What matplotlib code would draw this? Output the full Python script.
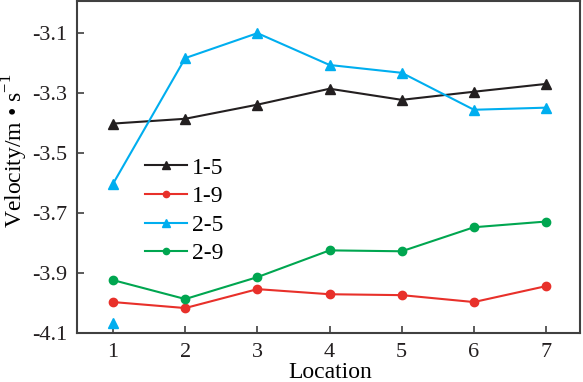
import matplotlib
matplotlib.use("Agg")
import matplotlib.pyplot as plt

locations = [1, 2, 3, 4, 5, 6, 7]
s15 = [-3.403, -3.387, -3.340, -3.287, -3.324, -3.297, -3.271]
s19 = [-3.997, -4.017, -3.954, -3.971, -3.974, -3.997, -3.944]
s25 = [-3.603, -3.185, -3.102, -3.208, -3.234, -3.357, -3.350]
s29 = [-3.924, -3.987, -3.914, -3.825, -3.828, -3.748, -3.729]
extra_x = [1]
extra_25 = [-4.067]
labels = ["1-5", "1-9", "2-5", "2-9"]
yticks = [-4.1, -3.9, -3.7, -3.5, -3.3, -3.1]

plt.rcParams['font.family'] = ['Liberation Serif', 'DejaVu Serif']
plt.rcParams['axes.unicode_minus'] = False
plt.rcParams['mathtext.fontset'] = 'custom'
plt.rcParams['mathtext.rm'] = 'Liberation Serif'
fig = plt.figure(figsize=(5.83, 3.82), dpi=100)
ax = fig.add_axes([77/583, 49/382, 503/583, 332/382])

c_black = "#231f20"
c_red = "#e8302a"
c_blue = "#00aeef"
c_green = "#00a650"

ax.plot(locations, s15, color=c_black, lw=1.5, marker="^", ms=7, label=labels[0])
ax.plot(locations, s19, color=c_red, lw=1.5, marker="o", ms=6, label=labels[1])
ax.plot(locations, s25, color=c_blue, lw=1.5, marker="^", ms=7, label=labels[2])
ax.plot(locations, s29, color=c_green, lw=1.5, marker="o", ms=6, label=labels[3])
ax.plot(extra_x, extra_25, color=c_blue, lw=0, marker="^", ms=7)

ax.set_xlim(0.5, 7.47)
ax.set_ylim(-4.1, -2.995)
ax.set_xticks(locations)
ax.set_yticks(yticks)
ax.set_yticklabels([f"{v:.1f}" for v in yticks])
ax.tick_params(direction="in", length=5, width=1.2, labelsize=16, colors="#404040",
               labelcolor="#231f20")
ax.tick_params(axis="y", pad=7)
ax.tick_params(axis="x", pad=7)
for sp in ax.spines.values():
    sp.set_color("#404040")
    sp.set_linewidth(1.5)

ax.set_xlabel("Location", fontsize=17)
ax.xaxis.set_label_coords(0.503, -0.088)
ax.set_ylabel("Velocity/m • s$^{\\mathregular{-1}}$", fontsize=17)
ax.yaxis.set_label_coords(-0.093, 0.55)

leg = ax.legend(loc="upper left", bbox_to_anchor=(0.135, 0.53), frameon=False, fontsize=17,
                handlelength=1.8, handletextpad=0.2, labelspacing=0.3, borderaxespad=0,
                borderpad=0, markerscale=0.75)

fig.savefig("out.png", dpi=100)
